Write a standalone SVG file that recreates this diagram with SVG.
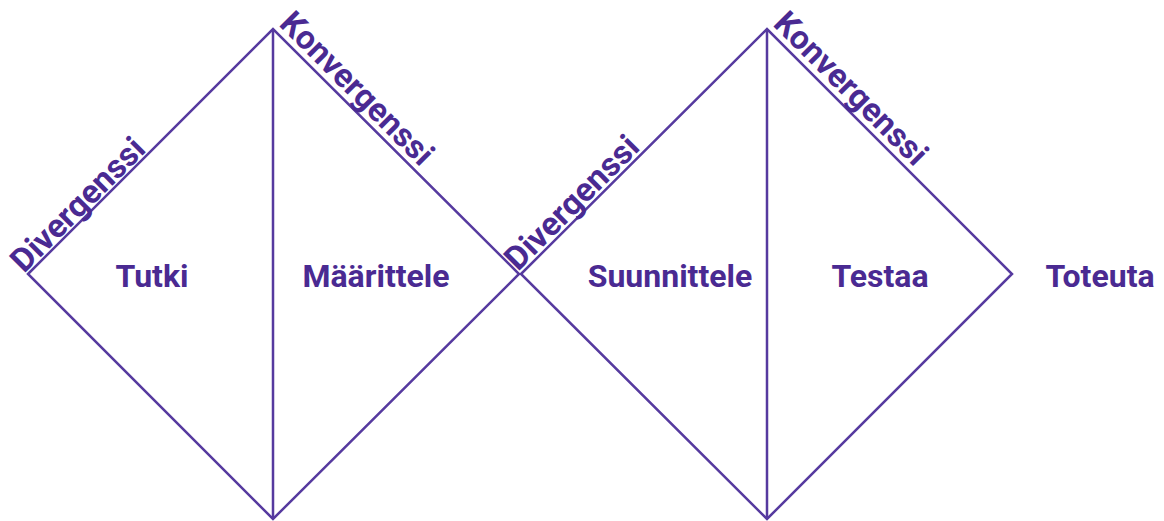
<svg xmlns="http://www.w3.org/2000/svg" width="1164" height="521" viewBox="0 0 1164 521">
<style>
.edge{fill:none;stroke:#563a9f;stroke-width:2.5;stroke-linejoin:miter}
.lbl{font-family:Roboto,"Liberation Sans",sans-serif;font-weight:bold;font-size:32px;fill:#4a2a92;text-anchor:middle}
.side{font-family:Roboto,"Liberation Sans",sans-serif;font-weight:bold;font-size:33px;fill:#4a2a92}
</style>
<rect width="1164" height="521" fill="#ffffff"/>
<g id="connectors">
<polygon class="edge" points="28,274 273,29 519,274 273,519"/>
<line class="edge" x1="273" y1="29" x2="273" y2="519"/>
<polygon class="edge" points="521,274 767,29 1012,274 767,519"/>
<line class="edge" x1="767" y1="29" x2="767" y2="519"/>
</g>
<g id="tutki"><text class="lbl" x="152" y="287">Tutki</text></g>
<g id="maarittele"><text class="lbl" x="376" y="287">Määrittele</text></g>
<g id="suunnittele"><text class="lbl" x="670" y="287">Suunnittele</text></g>
<g id="testaa"><text class="lbl" x="880" y="287">Testaa</text></g>
<g id="toteuta"><text class="lbl" x="1100" y="287">Toteuta</text></g>
<g id="divergenssi1"><text class="side" transform="translate(24,274) rotate(-45)">Divergenssi</text></g>
<g id="konvergenssi1"><text class="side" transform="translate(278,25) rotate(45)">Konvergenssi</text></g>
<g id="divergenssi2"><text class="side" transform="translate(518,272) rotate(-45)">Divergenssi</text></g>
<g id="konvergenssi2"><text class="side" transform="translate(772,25) rotate(45)">Konvergenssi</text></g>
</svg>
